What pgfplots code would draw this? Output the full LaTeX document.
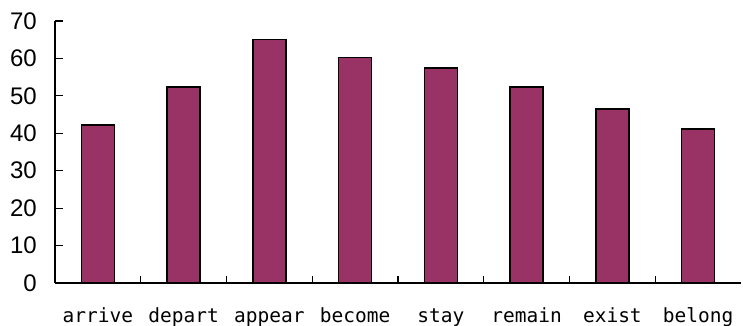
\documentclass[border=0pt]{standalone}
\usepackage{fontspec}
\setmainfont{Liberation Sans}
\newfontfamily\gul{DejaVu Sans Mono}
\usepackage{pgfplots}
\pgfplotsset{compat=1.18}
\definecolor{plum}{HTML}{993366}
\begin{document}
\begin{tikzpicture}
\useasboundingbox (-55pt,-43pt) rectangle (688pt,283pt);
\begin{axis}[
  at={(0,0)}, anchor=south west,
  scale only axis, width=686pt, height=262pt,
  xmin=-0.5, xmax=7.5, ymin=0, ymax=70,
  axis x line=bottom, axis y line=left,
  axis line style={line width=1.2pt, -},
  ybar, bar width=33pt,
  ytick={0,10,...,70},
  xtick={0,...,7},
  xticklabels={arrive,depart,appear,become,stay,remain,exist,belong},
  minor xtick={0.5,1.5,...,6.5},
  tick align=inside,
  major tick length=8pt, minor tick length=7pt,
  major x tick style={draw=none},
  minor x tick style={draw=black, line width=1.2pt},
  y tick style={line width=1.2pt, black},
  /pgf/number format/assume math mode=true,
  yticklabel style={font=\fontsize{24}{24}\selectfont, inner sep=0pt, xshift=-18pt},
  xticklabel style={font=\gul\fontsize{19.5}{20}\selectfont, inner sep=0pt, anchor=north, text height=15pt, text depth=4pt, yshift=-24pt},
  clip=false,
]
\addplot[fill=plum, draw=black, line width=1.5pt]
  coordinates {(0,42.2) (1,52.3) (2,65.1) (3,60.3) (4,57.5) (5,52.3) (6,46.5) (7,41.1)};
\end{axis}
\end{tikzpicture}
\end{document}
